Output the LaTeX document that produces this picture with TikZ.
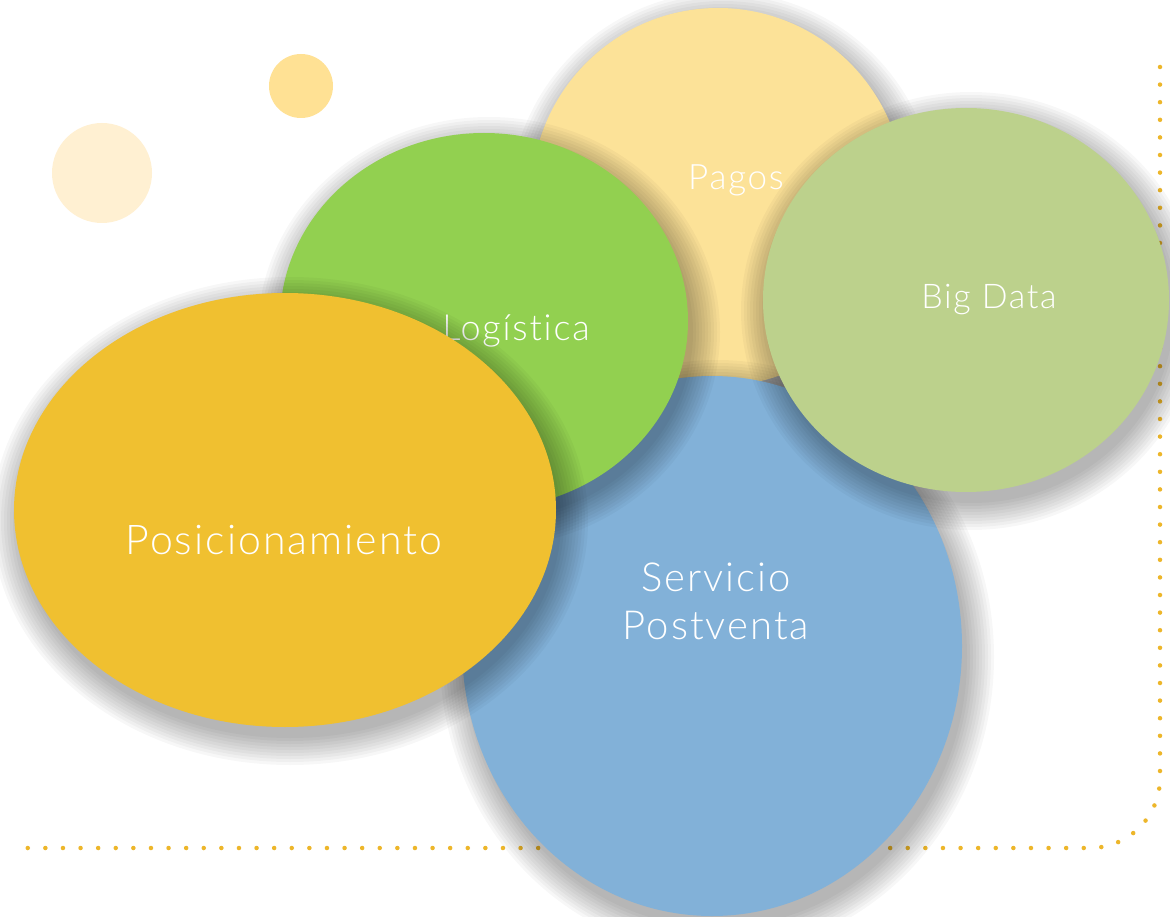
\documentclass[tikz,border=0pt]{standalone}
\usepackage{fontspec}
\setmainfont{Lato}[UprightFont={* Light}, LetterSpace=5, Ligatures={NoCommon,NoRare}]
\usetikzlibrary{shapes.geometric}
\definecolor{dotc}{HTML}{EDB62A}
\definecolor{cone}{HTML}{FFF0D2}
\definecolor{ctwo}{HTML}{FFE194}
\definecolor{cpagos}{HTML}{FCE298}
\definecolor{clog}{HTML}{92D050}
\definecolor{cbig}{HTML}{BCD18C}
\definecolor{cserv}{HTML}{82B1D8}
\definecolor{cpos}{HTML}{F0C030}
\newcommand{\bubshadow}[4]{%
  \foreach \k in {27,24,...,0}{%
    \fill[black, opacity=0.03] (#1+5,#2+11) ellipse [x radius=#3+\k, y radius=#4+\k];}}
\begin{document}
\begin{tikzpicture}[x=1pt,y=-1pt,
  bubble/.style={ellipse, inner sep=0pt, draw=none},
  lbl/.style={text=white, align=center, inner sep=0pt},
  dotline/.style={draw=dotc, line width=4.5pt, line cap=round, dash pattern=on 0pt off 17.6pt}]
\useasboundingbox (0,0) rectangle (1170,917);
\fill[white] (0,0) rectangle (1170,917);
\coordinate (top) at (1160,67);
\coordinate (corner) at (1160,848);
\coordinate (left) at (14,848);
\draw[dotline, rounded corners=70pt] (top) -- (corner) -- (left);
\node[circle, fill=cone, minimum size=100pt, inner sep=0pt] (d1) at (102,173) {};
\node[circle, fill=ctwo, minimum size=64pt, inner sep=0pt] (d2) at (301,86) {};
% Pagos
\bubshadow{718}{197}{187}{189}
\node[bubble, fill=cpagos, minimum width=374pt, minimum height=378pt] (pagos) at (718,197) {};
\node[lbl, font=\fontsize{35}{40}\selectfont] (tpagos) at (736,180) {Pagos};
% Servicio Postventa
\bubshadow{712}{646}{250}{270}
\node[bubble, fill=cserv, minimum width=500pt, minimum height=540pt] (serv) at (712,646) {};
\node[lbl, font=\fontsize{40}{48}\selectfont] (tserv) at (716,601) {Servicio\\Postventa};
% Logistica
\bubshadow{484}{321}{204}{188}
\node[bubble, fill=clog, minimum width=408pt, minimum height=376pt] (log) at (484,321) {};
\node[lbl, font=\fontsize{36}{40}\selectfont] (tlog) at (516,331) {Logística};
% Big Data
\bubshadow{966}{300}{203}{192}
\node[bubble, fill=cbig, minimum width=406pt, minimum height=384pt] (big) at (966,300) {};
\node[lbl, font=\fontsize{34}{40}\selectfont] (tbig) at (989,300) {Big Data};
% Posicionamiento
\bubshadow{285}{510}{271}{217}
\node[bubble, fill=cpos, minimum width=542pt, minimum height=434pt] (pos) at (285,510) {};
\node[lbl, font=\fontsize{41}{46}\selectfont] (tpos) at (284,540) {Posicionamiento};
\end{tikzpicture}
\end{document}
